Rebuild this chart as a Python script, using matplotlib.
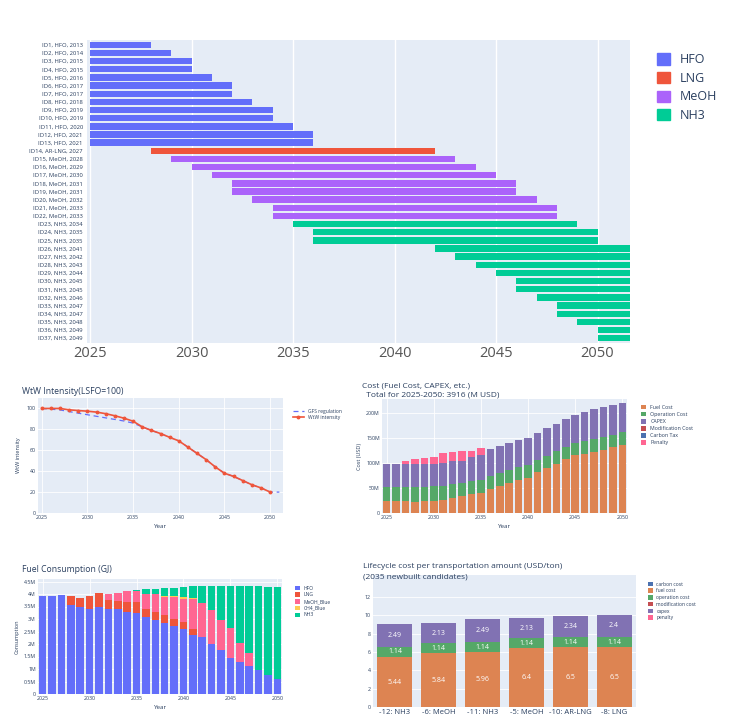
import numpy as np
import matplotlib
matplotlib.use("Agg")
import matplotlib.pyplot as plt
from matplotlib.patches import Patch
from matplotlib.lines import Line2D
from matplotlib.ticker import FuncFormatter

plt.rcParams['font.family'] = ['Open Sans', 'DejaVu Sans']

BG = "#E5ECF6"
TXT = "#2a3f5f"

# ---- fleet gantt data ----
ship_ids = list(range(1, 38))
ship_fuel = ["HFO"] * 13 + ["AR-LNG"] + ["MeOH"] * 8 + ["NH3"] * 15
ship_group = ["HFO"] * 13 + ["LNG"] + ["MeOH"] * 8 + ["NH3"] * 15
ship_built = [2013, 2014, 2015, 2015, 2016, 2017, 2017, 2018, 2019, 2019, 2020, 2021, 2021,
              2027,
              2028, 2029, 2030, 2031, 2031, 2032, 2033, 2033,
              2034, 2035, 2035, 2041, 2042, 2043, 2044, 2045, 2045, 2046, 2047, 2047,
              2048, 2049, 2049]
ship_start = [2025] * 13 + [2028] + [2029, 2030, 2031, 2032, 2032, 2033, 2034, 2034] + \
             [2035, 2036, 2036, 2042, 2043, 2044, 2045, 2046, 2046, 2047, 2048, 2048,
              2049, 2050, 2050]
ship_end = [2028, 2029, 2030, 2030, 2031, 2032, 2032, 2033, 2034, 2034, 2035, 2036, 2036] + \
           [2042] + [2043, 2044, 2045, 2046, 2046, 2047, 2048, 2048] + \
           [2049, 2050, 2050, 2056, 2057, 2058, 2059, 2060, 2060, 2061, 2062, 2062,
            2063, 2064, 2064]
group_names = ["HFO", "LNG", "MeOH", "NH3"]
group_colors = {"HFO": "#636EFA", "LNG": "#EF553B", "MeOH": "#AB63FA", "NH3": "#00CC96"}

# ---- WtW intensity ----
wtw_years = list(range(2025, 2051))
wtw_values = [100, 100, 100, 98.7, 98, 97.4, 96.5, 95, 93, 90.7, 87.8, 82.4, 79, 76, 72.4,
              69, 63, 57, 51, 44, 38, 35, 31, 27, 24, 20]
gfs_years = list(range(2025, 2052))
gfs_values = [100, 99.3, 98.6, 97, 95.5, 94, 92.5, 91, 89.5, 88, 86, 82.4, 79, 76, 72.4,
              69, 63, 57, 51, 44, 38, 35, 31, 27, 24, 20, 20]

# ---- yearly cost (M USD) ----
cost_years = list(range(2025, 2051))
cost_fuel = [24, 24, 24, 23, 24, 25, 27, 31, 34, 38, 41, 49, 55, 60, 66, 71, 82, 90, 99,
             108, 116, 119, 123, 127, 132, 137]
cost_oper = [29, 29, 29, 30, 29, 29, 28, 28, 27, 27, 26, 26, 26, 26, 26, 26, 25, 25, 25,
             25, 25, 25, 25, 25, 25, 25]
cost_capex = [46, 46, 46, 45, 46, 44, 46, 45, 44, 47, 50, 54, 53, 54, 54, 54, 54, 55, 55,
              55, 56, 59, 60, 60, 60, 59]
cost_modif = [0] * 26
cost_ctax = [0] * 26
cost_penalty = [0, 0, 5, 10, 12, 15, 19, 18, 19, 12, 13, 0, 0, 0, 0, 0, 0, 0, 0, 0, 0, 0,
                0, 0, 0, 0]

# ---- fuel consumption (M GJ) ----
fc_years = list(range(2025, 2051))
fc_hfo = [3.92, 3.94, 3.95, 3.56, 3.49, 3.41, 3.49, 3.41, 3.39, 3.29, 3.24, 3.08, 2.97,
          2.85, 2.72, 2.59, 2.38, 2.28, 2.02, 1.77, 1.45, 1.27, 1.11, 0.95, 0.78, 0.60]
fc_lng = [0, 0, 0, 0.36, 0.35, 0.53, 0.54, 0.35, 0.35, 0.41, 0.46, 0.33, 0.31, 0.30, 0.29,
          0.29, 0.23, 0, 0, 0, 0, 0, 0, 0, 0, 0]
fc_meoh = [0, 0, 0, 0, 0, 0, 0, 0.24, 0.29, 0.43, 0.41, 0.59, 0.72, 0.75, 0.86, 0.91,
           1.18, 1.38, 1.34, 1.21, 1.20, 0.78, 0.53, 0, 0, 0]
fc_ch4 = [0, 0, 0, 0, 0, 0, 0, 0, 0, 0, 0, 0, 0, 0.02, 0.05, 0.08, 0.07, 0, 0, 0, 0, 0,
          0, 0, 0, 0]
fc_nh3 = [0, 0, 0, 0, 0, 0, 0, 0, 0, 0, 0.06, 0.22, 0.22, 0.31, 0.33, 0.43, 0.47, 0.67,
          0.97, 1.35, 1.68, 2.28, 2.69, 3.38, 3.52, 3.69]

# ---- lifecycle cost (USD/ton) ----
lc_names = ["-12: NH3", "-6: MeOH", "-11: NH3", "-5: MeOH", "-10: AR-LNG", "-8: LNG"]
lc_carbon = [0, 0, 0, 0, 0, 0]
lc_fuel = [5.44, 5.84, 5.96, 6.4, 6.5, 6.5]
lc_oper = [1.14, 1.14, 1.14, 1.14, 1.14, 1.14]
lc_modif = [0, 0, 0, 0, 0, 0]
lc_capex = [2.49, 2.13, 2.49, 2.13, 2.34, 2.4]
lc_penalty = [0, 0, 0, 0, 0, 0]

C_ORANGE = "#DD8452"
C_GREEN = "#55A868"
C_PURPLE = "#8172B3"
C_RED = "#C44E52"
C_BLUE = "#4C72B0"
C_PINK = "#FF6692"

W, H = 734, 723
fig = plt.figure(figsize=(W / 100, H / 100), dpi=100)


def box(x0, y0, x1, y1):
    return [x0 / W, 1 - y1 / H, (x1 - x0) / W, (y1 - y0) / H]


def small_style(ax):
    ax.set_facecolor(BG)
    ax.grid(True, color="white", linewidth=0.6)
    ax.set_axisbelow(True)
    for s in ax.spines.values():
        s.set_visible(False)
    ax.tick_params(length=0, labelsize=3.8, colors=TXT, pad=1.5)


# ================= gantt =================
ax = fig.add_axes(box(87, 40, 630, 343))
ax.set_facecolor(BG)
for i in range(len(ship_ids)):
    ax.barh(i, ship_end[i] - ship_start[i], left=ship_start[i], height=0.78,
            color=group_colors[ship_group[i]])
ax.set_xlim(2024.85, 2051.6)
ax.set_ylim(len(ship_ids) - 0.4, -0.6)
ax.set_yticks(range(len(ship_ids)))
ax.set_yticklabels(["ID{}, {}, {}".format(ship_ids[i], ship_fuel[i], ship_built[i])
                    for i in range(len(ship_ids))], fontsize=4.2, color=TXT)
ax.set_xticks([2025, 2030, 2035, 2040, 2045, 2050])
ax.tick_params(axis="x", labelsize=10.5, colors="#555555", length=0, pad=2)
ax.tick_params(axis="y", length=0, pad=3)
ax.grid(True, axis="x", color="white", linewidth=1)
ax.set_axisbelow(True)
for s in ax.spines.values():
    s.set_visible(False)
ax.legend([Patch(color=group_colors[g]) for g in group_names], group_names,
          loc="upper left", bbox_to_anchor=(646 / W, 1 - 42 / H), bbox_transform=fig.transFigure,
          frameon=False, fontsize=9, handlelength=1.0, handleheight=1.0,
          labelspacing=0.45, handletextpad=0.8, labelcolor=TXT)

# ================= WtW intensity =================
ax = fig.add_axes(box(38, 398, 283, 513))
small_style(ax)
ax.plot(gfs_years, gfs_values, color="#636EFA", lw=0.9, linestyle=(0, (4, 3)),
        label="GFS regulation")
ax.plot(wtw_years, wtw_values, color="#EF553B", lw=1.2, marker="o", ms=1.8,
        label="WtW intensity")
ax.set_xlim(2024.6, 2051.4)
ax.set_ylim(0, 110)
ax.set_yticks([0, 20, 40, 60, 80, 100])
ax.set_xticks([2025, 2030, 2035, 2040, 2045, 2050])
ax.set_xlabel("Year", fontsize=4.5, color=TXT, labelpad=3)
ax.set_ylabel("WtW intensity", fontsize=4, color=TXT, labelpad=4)
ax.legend(loc="upper left", bbox_to_anchor=(288 / W, 1 - 404 / H), bbox_transform=fig.transFigure,
          frameon=False, fontsize=3.6, handlelength=2.2, labelspacing=0.3, labelcolor=TXT)
fig.text(22 / W, 1 - 391 / H, "WtW Intensity(LSFO=100)", fontsize=6.2, color=TXT, va="center")

# ================= Cost =================
ax = fig.add_axes(box(382, 399, 627, 513))
small_style(ax)
b = np.zeros(len(cost_years))
cost_series = [("Fuel Cost", cost_fuel, C_ORANGE), ("Operation Cost", cost_oper, C_GREEN),
               ("CAPEX", cost_capex, C_PURPLE), ("Modification Cost", cost_modif, C_RED),
               ("Carbon Tax", cost_ctax, C_BLUE), ("Penalty", cost_penalty, C_PINK)]
for name, vals, col in cost_series:
    ax.bar(cost_years, vals, bottom=b, width=0.8, color=col, label=name)
    b = b + np.array(vals)
ax.set_xlim(2024.5, 2050.5)
ax.set_ylim(0, 229)
ax.set_yticks([0, 50, 100, 150, 200])
ax.yaxis.set_major_formatter(FuncFormatter(lambda v, p: "0" if v == 0 else "{:g}M".format(v)))
ax.set_xticks([2025, 2030, 2035, 2040, 2045, 2050])
ax.set_xlabel("Year", fontsize=4.5, color=TXT, labelpad=3)
ax.set_ylabel("Cost (USD)", fontsize=4, color=TXT, labelpad=3)
ax.legend(loc="upper left", bbox_to_anchor=(636 / W, 1 - 400 / H), bbox_transform=fig.transFigure,
          frameon=False, fontsize=3.8, handlelength=1.0, handleheight=1.0,
          labelspacing=0.35, labelcolor=TXT)
fig.text(362 / W, 1 - 386 / H, "Cost (Fuel Cost, CAPEX, etc.)", fontsize=6, color=TXT, va="center")
fig.text(362 / W, 1 - 395 / H, "  Total for 2025-2050: 3916 (M USD)", fontsize=6, color=TXT,
         va="center")

# ================= Fuel consumption =================
ax = fig.add_axes(box(38, 579, 282, 694))
small_style(ax)
b = np.zeros(len(fc_years))
fc_series = [("HFO", fc_hfo, "#636EFA"), ("LNG", fc_lng, "#EF553B"),
             ("MeOH_Blue", fc_meoh, "#FF6692"), ("CH4_Blue", fc_ch4, "#FECB52"),
             ("NH3", fc_nh3, "#00CC96")]
for name, vals, col in fc_series:
    ax.bar(fc_years, vals, bottom=b, width=0.8, color=col, label=name)
    b = b + np.array(vals)
ax.set_xlim(2024.5, 2050.5)
ax.set_ylim(0, 4.6)
ax.set_yticks(np.arange(0, 4.51, 0.5))
ax.yaxis.set_major_formatter(FuncFormatter(lambda v, p: "0" if v == 0 else "{:g}M".format(v)))
ax.set_xticks([2025, 2030, 2035, 2040, 2045, 2050])
ax.set_xlabel("Year", fontsize=4.5, color=TXT, labelpad=3)
ax.set_ylabel("Consumption", fontsize=4, color=TXT, labelpad=3)
ax.legend(loc="upper left", bbox_to_anchor=(290 / W, 1 - 581 / H), bbox_transform=fig.transFigure,
          frameon=False, fontsize=3.6, handlelength=1.0, handleheight=1.0,
          labelspacing=0.35, labelcolor=TXT)
fig.text(22 / W, 1 - 569 / H, "Fuel Consumption (GJ)", fontsize=6.2, color=TXT, va="center")

# ================= Lifecycle cost =================
ax = fig.add_axes(box(373, 575, 636, 707))
small_style(ax)
ax.grid(False, axis="x")
x = np.arange(len(lc_names))
b = np.zeros(len(lc_names))
lc_series = [("carbon cost", lc_carbon, C_BLUE), ("fuel cost", lc_fuel, C_ORANGE),
             ("operation cost", lc_oper, C_GREEN), ("modification cost", lc_modif, C_RED),
             ("capex", lc_capex, C_PURPLE), ("penalty", lc_penalty, C_PINK)]
for name, vals, col in lc_series:
    ax.bar(x, vals, bottom=b, width=0.8, color=col, label=name)
    for xi, bi, v in zip(x, b, vals):
        if v > 0:
            ax.text(xi, bi + v / 2, "{:g}".format(v), ha="center", va="center",
                    fontsize=5, color="white")
    b = b + np.array(vals)
ax.set_xlim(-0.5, len(lc_names) - 0.5)
ax.set_ylim(0, 14.4)
ax.set_yticks([0, 2, 4, 6, 8, 10, 12])
ax.set_xticks(x)
ax.set_xticklabels(lc_names, fontsize=5.5, color=TXT)
ax.legend(loc="upper left", bbox_to_anchor=(643 / W, 1 - 577 / H), bbox_transform=fig.transFigure,
          frameon=False, fontsize=3.6, handlelength=1.0, handleheight=1.0,
          labelspacing=0.35, labelcolor=TXT)
fig.text(363 / W, 1 - 566 / H, "Lifecycle cost per transportation amount (USD/ton)",
         fontsize=6, color=TXT, va="center")
fig.text(363 / W, 1 - 577 / H, "(2035 newbuilt candidates)", fontsize=6, color=TXT, va="center")

fig.savefig("out.png", dpi=100, facecolor="white")
